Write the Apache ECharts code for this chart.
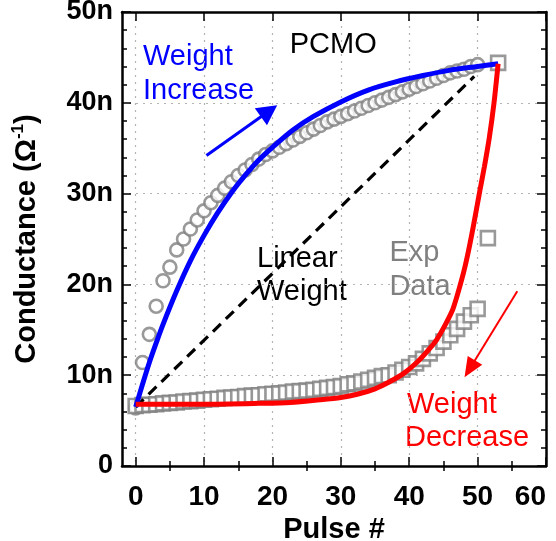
<!DOCTYPE html>
<html>
<head>
<meta charset="utf-8">
<script src="https://cdn.jsdelivr.net/npm/echarts@6/dist/echarts.min.js"></script>
<style>
  html, body { margin: 0; padding: 0; background: #fff; }
  #chart { width: 556px; height: 541px; }
</style>
</head>
<body>
<div id="chart"></div>
<script>
// Pulse-number ticks
const xMajorTicks = [0, 10, 20, 30, 40, 50, 60];
const xMinorTicks = [5, 15, 25, 35, 45, 55];

// Measured potentiation (weight increase), conductance in nS
const incPulse = [0, 1, 2, 3, 4, 5, 6, 7, 8, 9, 10, 11, 12, 13, 14, 15, 16, 17, 18, 19, 20,
  21, 22, 23, 24, 25, 26, 27, 28, 29, 30, 31, 32, 33, 34, 35, 36, 37, 38, 39, 40,
  41, 42, 43, 44, 45, 46, 47, 48, 49, 50];
const incG = [6.4, 11.4, 14.5, 17.6, 20.4, 21.9, 23.8, 25.0, 26.1, 27.1, 28.1, 29.0, 29.8, 30.6, 31.3,
  32.0, 32.6, 33.2, 33.8, 34.3, 34.7, 35.1, 35.5, 35.9, 36.3, 36.7, 37.1, 37.5, 37.9, 38.2, 38.5,
  38.8, 39.1, 39.4, 39.7, 40.0, 40.3, 40.6, 40.9, 41.2, 41.5, 41.8, 42.1, 42.4, 42.7, 43.0, 43.3,
  43.5, 43.7, 44.0, 44.2];

// Measured depression (weight decrease), conductance in nS
const decPulse = [0, 1, 2, 3, 4, 5, 6, 7, 8, 9, 10, 11, 12, 13, 14, 15, 16, 17, 18, 19, 20,
  21, 22, 23, 24, 25, 26, 27, 28, 29, 30, 31, 32, 33, 34, 35, 36, 37, 38, 39, 40,
  41, 42, 43, 44, 45, 46, 47, 48, 49, 50, 51.5, 53];
const decG = [6.6, 6.7, 6.75, 6.8, 6.9, 6.95, 7.0, 7.1, 7.15, 7.2, 7.3, 7.35, 7.4, 7.5, 7.55, 7.6,
  7.7, 7.75, 7.8, 7.9, 7.95, 8.0, 8.1, 8.2, 8.25, 8.3, 8.4, 8.5, 8.6, 8.7, 8.8, 9.0, 9.1, 9.3, 9.5,
  9.7, 9.9, 10.0, 10.3, 10.6, 10.9, 11.3, 11.8, 12.4, 13.0, 13.7, 14.4, 15.1, 15.9, 16.6, 17.3,
  25.1, 44.4];

// Model curves
const fitIncPulse = [0, 1, 2, 3, 4, 6, 8, 10, 12, 14, 16, 18, 20, 23, 26, 30, 34, 38, 42, 46, 50, 53];
const fitIncG = [6.5, 9.0, 11.4, 13.55, 15.6, 19.3, 22.6, 25.4, 27.9, 30.1, 32.0, 33.7, 35.1, 37.0,
  38.5, 40.1, 41.4, 42.3, 43.0, 43.6, 44.0, 44.3];
const fitDecPulse = [0, 10, 18, 22.6, 27, 30, 32.4, 35, 37.2, 39.2, 41.1, 42.6, 44, 45.3, 46.4,
  47.7, 48.5, 49.3, 50.3, 51.0, 51.7, 52.4, 53];
const fitDecG = [6.8, 6.8, 6.9, 7.0, 7.3, 7.55, 7.9, 8.5, 9.3, 10.2, 11.4, 12.6, 13.9, 15.6, 17.3,
  20.6, 23.1, 26.1, 30.2, 33.0, 36.1, 40.0, 44.3];

// Ideal linear weight update
const linPulse = [0, 49.5];
const linG = [6.5, 42.9];

// Arrow annotations (start, end) in data units
const incArrow = [[10.35, 34.2], [19.5, 39.1]];
const decArrow = [[55.8, 19.25], [48.85, 10.7]];

const FONT = '"Liberation Sans", Arial, Helvetica, sans-serif';
const zip = (xs, ys) => xs.map((x, i) => [x, ys[i]]);

const chart = echarts.init(document.getElementById('chart'), null, { renderer: 'canvas' });

const gridLine = () => ({ show: true, lineStyle: { color: '#b4b4b4', width: 1.2, type: [2, 5] } });
const frameLine = () => ({ show: true, onZero: false, lineStyle: { color: '#000', width: 2.5 } });
const tickStyle = () => ({ color: '#000', width: 1.5 });

function xAxisDef(position, custom, len, withLabels, withLine, withGrid) {
  return {
    type: 'value', position, min: -2, max: 60, show: true,
    axisLine: withLine ? frameLine() : { show: false },
    axisTick: { show: true, inside: true, length: len, customValues: custom, lineStyle: tickStyle() },
    axisLabel: withLabels ? {
      show: true, customValues: custom, margin: 17, alignMaxLabel: 'right',
      fontFamily: FONT, fontSize: 28, fontWeight: 'bold', color: '#000'
    } : { show: false },
    splitLine: withGrid ? gridLine() : { show: false },
    name: withLabels ? 'Pulse #' : '',
    nameLocation: 'middle', nameGap: 36,
    nameTextStyle: { fontFamily: FONT, fontSize: 29, fontWeight: 'bold', color: '#000' }
  };
}

function yAxisDef(position, withLabels, withGrid) {
  return {
    type: 'value', position, min: 0, max: 50, interval: 10, show: true,
    axisLine: frameLine(),
    axisTick: { show: true, inside: true, length: 9, lineStyle: tickStyle() },
    minorTick: { show: true, splitNumber: 5, length: 5, lineStyle: tickStyle() },
    axisLabel: withLabels ? {
      show: true, margin: 9,
      fontFamily: FONT, fontSize: 27, fontWeight: 'bold', color: '#000',
      formatter: v => (v === 0 ? '0' : v + 'n')
    } : { show: false },
    splitLine: withGrid ? gridLine() : { show: false },
    name: withLabels ? '{a|Conductance (Ω}{s|-1}{a|)}' : '',
    nameLocation: 'middle', nameGap: 78, nameRotate: 90,
    nameTextStyle: {
      rich: {
        a: { fontFamily: FONT, fontSize: 29, fontWeight: 'bold', color: '#000', lineHeight: 34 },
        s: { fontFamily: FONT, fontSize: 17, fontWeight: 'bold', color: '#000', lineHeight: 18, verticalAlign: 'top' }
      }
    }
  };
}

function txt(text, x, y, color) {
  return {
    type: 'text', x, y, silent: true,
    style: { text, fill: color, font: '29px ' + FONT, textVerticalAlign: 'middle' }
  };
}

// Empty series that keep the frame axes (minor ticks, top and right mirrors) attached
const frameHolders = [
  { xAxisIndex: 1, yAxisIndex: 1 },
  { xAxisIndex: 2, yAxisIndex: 1 },
  { xAxisIndex: 3, yAxisIndex: 1 }
].map(ix => Object.assign({ type: 'line', data: [], silent: true, symbol: 'none' }, ix));

chart.setOption({
  animation: false,
  backgroundColor: '#fff',
  grid: { left: 122, right: 10, top: 12, bottom: 75, containLabel: false, outerBoundsMode: 'none' },
  xAxis: [
    xAxisDef('bottom', xMajorTicks, 9, true, true, true),
    xAxisDef('bottom', xMinorTicks, 5, false, false, false),
    xAxisDef('top', xMajorTicks, 9, false, true, false),
    xAxisDef('top', xMinorTicks, 5, false, false, false)
  ],
  yAxis: [
    yAxisDef('left', true, true),
    yAxisDef('right', false, false)
  ],
  graphic: [
    txt('PCMO', 289.7, 44.8, '#000'),
    txt('Weight', 143, 56.5, '#0000ff'),
    txt('Increase', 143, 90.8, '#0000ff'),
    txt('Linear', 257, 258.8, '#000'),
    txt('Weight', 257, 291.8, '#000'),
    txt('Exp', 389.4, 252.8, '#808080'),
    txt('Data', 389.4, 286.8, '#808080'),
    txt('Weight', 407, 404.8, '#ff0000'),
    txt('Decrease', 405, 437.8, '#ff0000')
  ],
  series: frameHolders.concat([
    {
      name: 'Exp Data (increase)', type: 'scatter', data: zip(incPulse, incG),
      symbol: 'circle', symbolSize: 13,
      itemStyle: { color: '#fff', borderColor: '#7f7f7f', borderWidth: 2.6 }
    },
    {
      name: 'Exp Data (decrease)', type: 'scatter', data: zip(decPulse, decG),
      symbol: 'rect', symbolSize: 14,
      itemStyle: { color: '#fff', borderColor: '#7f7f7f', borderWidth: 2.6 }
    },
    {
      name: 'Linear Weight', type: 'line', data: zip(linPulse, linG),
      symbol: 'none', lineStyle: { color: '#000', width: 3.2, type: [11, 7] }
    },
    {
      name: 'Weight Increase', type: 'line', data: zip(fitIncPulse, fitIncG),
      symbol: 'none', smooth: 0.3,
      lineStyle: { color: '#0000ff', width: 5 },
      markLine: {
        silent: true, symbol: ['none', 'triangle'], symbolSize: [21, 20],
        label: { show: false },
        lineStyle: { color: '#0000ff', width: 3, type: 'solid' },
        itemStyle: { color: '#0000ff' },
        data: [[{ coord: incArrow[0] }, { coord: incArrow[1] }]]
      }
    },
    {
      name: 'Weight Decrease', type: 'line', data: zip(fitDecPulse, fitDecG),
      symbol: 'none', smooth: 0.25,
      lineStyle: { color: '#ff0000', width: 5 },
      markLine: {
        silent: true, symbol: ['none', 'triangle'], symbolSize: [17, 20],
        label: { show: false },
        lineStyle: { color: '#ff0000', width: 2, type: 'solid' },
        itemStyle: { color: '#ff0000' },
        data: [[{ coord: decArrow[0] }, { coord: decArrow[1] }]]
      }
    }
  ])
});
</script>
</body>
</html>
